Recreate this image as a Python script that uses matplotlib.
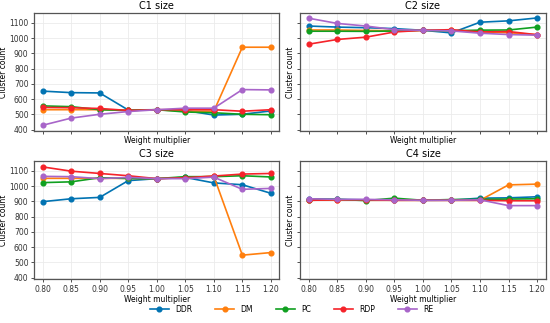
import matplotlib
matplotlib.use("Agg")
import matplotlib.pyplot as plt

weights = [0.80, 0.85, 0.90, 0.95, 1.00, 1.05, 1.10, 1.15, 1.20]
methods = ["DDR", "DM", "PC", "RDP", "RE"]
colors = ["#0173b2", "#ff7f0e", "#10a020", "#f5232a", "#a865c9"]

c1 = {
    "DDR": [652, 642, 640, 528, 530, 525, 495, 500, 522],
    "DM":  [530, 530, 530, 525, 530, 520, 520, 940, 940],
    "PC":  [555, 550, 530, 525, 530, 515, 510, 500, 497],
    "RDP": [545, 543, 538, 525, 530, 530, 530, 520, 530],
    "RE":  [428, 475, 500, 518, 530, 540, 540, 662, 660],
}
c2 = {
    "DDR": [1079, 1072, 1068, 1062, 1051, 1034, 1104, 1113, 1132],
    "DM":  [1053, 1053, 1050, 1048, 1051, 1050, 1040, 1035, 1022],
    "PC":  [1045, 1045, 1044, 1046, 1051, 1048, 1052, 1053, 1072],
    "RDP": [960, 991, 1006, 1040, 1051, 1055, 1040, 1043, 1022],
    "RE":  [1130, 1096, 1079, 1055, 1051, 1047, 1032, 1023, 1019],
}
c3 = {
    "DDR": [898, 917, 926, 1036, 1049, 1057, 1021, 1009, 953],
    "DM":  [1051, 1051, 1051, 1051, 1049, 1055, 1065, 547, 564],
    "PC":  [1023, 1028, 1055, 1050, 1049, 1062, 1062, 1068, 1060],
    "RDP": [1126, 1098, 1083, 1068, 1049, 1055, 1066, 1079, 1083],
    "RE":  [1064, 1062, 1049, 1057, 1049, 1049, 1059, 979, 985],
}
c4 = {
    "DDR": [917, 913, 910, 910, 907, 908, 921, 923, 930],
    "DM":  [907, 910, 907, 907, 907, 907, 907, 1008, 1013],
    "PC":  [912, 913, 905, 921, 907, 912, 913, 915, 917],
    "RDP": [907, 910, 910, 907, 907, 907, 907, 904, 904],
    "RE":  [917, 913, 913, 910, 907, 907, 910, 872, 872],
}
panels = [("C1 size", c1), ("C2 size", c2), ("C3 size", c3), ("C4 size", c4)]
yticks = [400, 500, 600, 700, 800, 900, 1000, 1100]

plt.rcParams["font.family"] = ["DejaVu Sans"]
fig, axes = plt.subplots(2, 2, figsize=(5.5, 3.23), dpi=100, sharex=True, sharey=True)
fig.subplots_adjust(left=0.062, right=0.992, top=0.96, bottom=0.135, wspace=0.085, hspace=0.25)

for ax, (title, data) in zip(axes.flat, panels):
    for m, c in zip(methods, colors):
        ax.plot(weights, data[m], color=c, marker="o", markersize=3.4, linewidth=1.2, label=m)
    ax.set_title(title, fontsize=7, pad=3)
    ax.set_xlabel("Weight multiplier", fontsize=5.5, labelpad=1)
    ax.set_ylabel("Cluster count", fontsize=5.5, labelpad=1)
    ax.grid(True, color="#ebebeb", linewidth=0.6)
    ax.set_axisbelow(True)
    for s in ax.spines.values():
        s.set_color("#555555")
        s.set_linewidth(0.9)
    ax.tick_params(labelsize=5.5, length=2.5, width=0.6, pad=1.5, colors="#333333")
    ax.xaxis.set_tick_params(labelbottom=True)

ax0 = axes[0, 0]
ax0.set_yticks(yticks)
ax0.set_ylim(388, 1165)
ax0.set_xticks(weights)
ax0.set_xticklabels([f"{w:.2f}" for w in weights])
ax0.set_xlim(0.785, 1.215)
for ax in axes[0]:
    ax.tick_params(labelbottom=False)

handles, labels = ax0.get_legend_handles_labels()
fig.legend(handles, labels, loc="center", ncol=5, fontsize=5.5, frameon=False,
           bbox_to_anchor=(0.53, 0.042), handlelength=2.5, columnspacing=3.0)

fig.savefig("out.png", dpi=100)
